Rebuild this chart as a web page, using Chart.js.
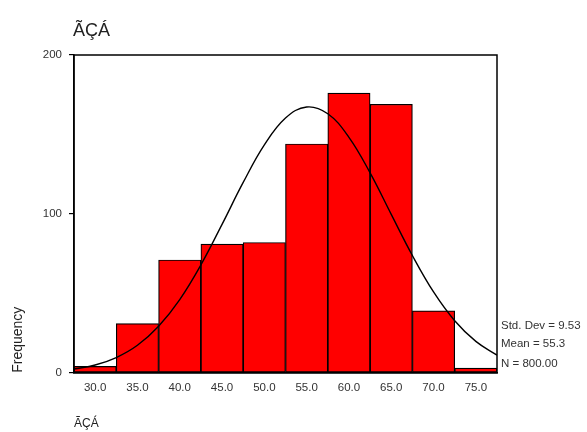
<!DOCTYPE html>
<html>
<head>
<meta charset="utf-8">
<script src="https://cdn.jsdelivr.net/npm/chart.js@4/dist/chart.umd.min.js"></script>
<style>
  html, body { margin: 0; padding: 0; background: #fff; }
  #wrap { width: 587px; height: 432px; }
</style>
</head>
<body>
<div id="wrap"><canvas id="c" width="587" height="432"></canvas></div>
<script>
const chartTitle = 'ÃÇÁ';
const xTitle = 'ÃÇÁ';
const yTitle = 'Frequency';
const binCenters = [30, 35, 40, 45, 50, 55, 60, 65, 70, 75];
const binCounts = [4, 31, 71, 81, 82, 144, 176, 169, 39, 3];
const curveX = [27.5, 30, 32.5, 35, 37.5, 40, 42.5, 45, 47.5, 50, 52.5, 55, 57.5, 60, 62.5, 65, 67.5, 70, 72.5, 75, 77.5];
const curveY = [2.4, 4.9, 9.6, 17.3, 29.3, 46.1, 67.9, 93.4, 119.8, 143.4, 160.3, 167.3, 163.0, 148.2, 125.8, 99.7, 73.8, 50.9, 32.8, 19.8, 11.1];
const xTicks = [30, 35, 40, 45, 50, 55, 60, 65, 70, 75];
const yTicks = [0, 100, 200];
const statsLines = ['Std. Dev = 9.53', 'Mean = 55.3', 'N = 800.00'];

const FONT = '"Liberation Sans", Arial, sans-serif';

const decor = {
  id: 'decor',
  afterDraw(chart) {
    const ctx = chart.ctx;
    const a = chart.chartArea;
    ctx.save();
    ctx.strokeStyle = '#000';
    ctx.lineWidth = 1.5;
    ctx.strokeRect(a.left, a.top, a.right - a.left, a.bottom - a.top);
    ctx.fillStyle = '#222';
    ctx.textBaseline = 'alphabetic';
    ctx.textAlign = 'left';
    ctx.font = '18px ' + FONT;
    ctx.fillText(chartTitle, a.left - 1, 36);
    ctx.font = '11.5px ' + FONT;
    ctx.fillStyle = '#333';
    ctx.textBaseline = 'middle';
    const ys = [326, 344, 364];
    statsLines.forEach((s, i) => ctx.fillText(s, a.right + 4, ys[i]));
    ctx.restore();
  }
};

new Chart(document.getElementById('c'), {
  data: {
    datasets: [
      {
        type: 'line',
        data: curveX.map((x, i) => ({ x: x, y: curveY[i] })),
        borderColor: '#000',
        borderWidth: 1.4,
        pointRadius: 0,
        tension: 0.4,
        fill: false,
        order: 0
      },
      {
        type: 'bar',
        data: binCenters.map((x, i) => ({ x: x, y: binCounts[i] })),
        backgroundColor: '#ff0000',
        borderColor: '#000',
        borderWidth: 1.2,
        borderSkipped: false,
        barPercentage: 1,
        categoryPercentage: 1,
        order: 1
      }
    ]
  },
  options: {
    responsive: false,
    animation: false,
    events: [],
    layout: { padding: { left: 0, right: 90, top: 55, bottom: 1 } },
    plugins: { legend: { display: false }, tooltip: { enabled: false }, title: { display: false } },
    scales: {
      x: {
        type: 'linear',
        offset: false,
        min: 27.5,
        max: 77.5,
        afterBuildTicks: (axis) => { axis.ticks = xTicks.map(v => ({ value: v })); },
        ticks: {
          callback: (v) => Number(v).toFixed(1),
          font: { family: FONT, size: 11.5 },
          color: '#333',
          padding: 8,
          maxRotation: 0,
          autoSkip: false
        },
        grid: { display: true, drawOnChartArea: false, drawTicks: false, offset: false },
        border: { display: true, color: '#000', width: 1.5 },
        title: {
          display: true,
          text: xTitle,
          align: 'start',
          font: { family: FONT, size: 12 },
          color: '#222',
          padding: { top: 14, bottom: 0 }
        }
      },
      y: {
        type: 'linear',
        min: 0,
        max: 200,
        afterBuildTicks: (axis) => { axis.ticks = yTicks.map(v => ({ value: v })); },
        ticks: {
          font: { family: FONT, size: 11.5 },
          color: '#333',
          padding: 7
        },
        grid: { display: true, drawOnChartArea: false, drawTicks: true, tickLength: 5, color: '#000', lineWidth: 1.2 },
        border: { display: true, color: '#000', width: 1.5 },
        title: {
          display: true,
          text: yTitle,
          align: 'start',
          font: { family: FONT, size: 14 },
          color: '#222',
          padding: { top: 10, bottom: 9 }
        }
      }
    }
  },
  plugins: [decor]
});
</script>
</body>
</html>
